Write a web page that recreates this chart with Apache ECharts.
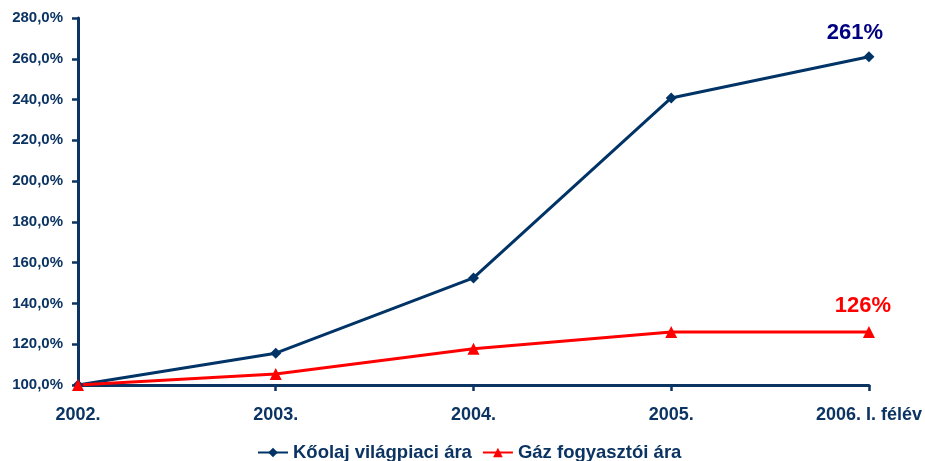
<!DOCTYPE html>
<html><head><meta charset="utf-8">
<script src="https://cdn.jsdelivr.net/npm/echarts@6/dist/echarts.min.js"></script>
<style>html,body{margin:0;padding:0;background:#fff}#c{width:925px;height:461px}</style>
</head><body><div id="c"></div>
<script>
const categories = ['2002.', '2003.', '2004.', '2005.', '2006. I. félév'];
const oilName = 'Kőolaj világpiaci ára';
const gasName = 'Gáz fogyasztói ára';
const oilValues = [100, 115.6, 152.5, 240.8, 261];
const gasValues = [100, 105.4, 117.8, 126, 126];
const oilEndLabel = '261%';
const gasEndLabel = '126%';

const navy = '#0b3463';
const font = 'Liberation Sans, Arial, sans-serif';
const chart = echarts.init(document.getElementById('c'));
chart.setOption({
  animation: false,
  grid: { left: 78, right: 56, top: 18, bottom: 76 },
  legend: {
    top: 438, left: 252, itemWidth: 30, itemHeight: 12, itemGap: 10,
    textStyle: { fontFamily: font, fontWeight: 'bold', fontSize: 18.5, color: navy },
    data: [oilName, gasName]
  },
  xAxis: {
    type: 'category', data: categories, boundaryGap: false,
    axisLine: { lineStyle: { color: navy, width: 3 } },
    axisTick: { alignWithLabel: true, length: 6, lineStyle: { color: navy, width: 2.5 } },
    axisLabel: { fontFamily: font, fontWeight: 'bold', fontSize: 18, color: navy, margin: 21, interval: 0 },
    splitLine: { show: false }
  },
  yAxis: {
    type: 'value', min: 100, max: 280, interval: 20,
    axisLine: { show: true, lineStyle: { color: navy, width: 3 } },
    axisTick: { show: true, length: 6, lineStyle: { color: navy, width: 2.5 } },
    axisLabel: { fontFamily: font, fontWeight: 'bold', fontSize: 15, color: navy, margin: 15,
      formatter: v => v.toFixed(1).replace('.', ',') + '%' },
    splitLine: { show: false }
  },
  series: [
    {
      name: oilName, type: 'line', data: oilValues,
      symbol: 'diamond', symbolSize: 11,
      lineStyle: { color: '#003366', width: 3 },
      itemStyle: { color: '#003366' },
      label: {
        show: true, position: 'top', distance: 7, offset: [-14, 0],
        formatter: p => p.dataIndex === oilValues.length - 1 ? oilEndLabel : '',
        fontFamily: font, fontWeight: 'bold', fontSize: 22, color: '#000080'
      }
    },
    {
      name: gasName, type: 'line', data: gasValues,
      symbol: 'triangle', symbolSize: 12,
      lineStyle: { color: '#ff0000', width: 3 },
      itemStyle: { color: '#ff0000' },
      label: {
        show: true, position: 'top', distance: 9, offset: [-6, 0],
        formatter: p => p.dataIndex === gasValues.length - 1 ? gasEndLabel : '',
        fontFamily: font, fontWeight: 'bold', fontSize: 22, color: '#ff0000'
      }
    }
  ]
});
</script>
</body></html>
